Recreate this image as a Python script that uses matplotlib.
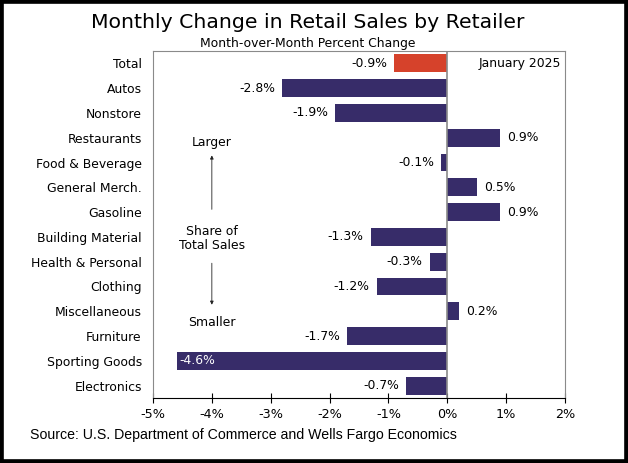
import matplotlib.pyplot as plt
from matplotlib.patches import Rectangle

# --- данные ---
categories = ['Total', 'Autos', 'Nonstore', 'Restaurants', 'Food & Beverage',
              'General Merch.', 'Gasoline', 'Building Material', 'Health & Personal',
              'Clothing', 'Miscellaneous', 'Furniture', 'Sporting Goods', 'Electronics']
values = [-0.9, -2.8, -1.9, 0.9, -0.1, 0.5, 0.9, -1.3, -0.3, -1.2, 0.2, -1.7, -4.6, -0.7]
x_ticks = [-5, -4, -3, -2, -1, 0, 1, 2]

navy = '#372c69'
red = '#d6422b'
fs = 8.9

fig = plt.figure(figsize=(6.28, 4.63), dpi=100)
ax = fig.add_axes([0.2436, 0.1404, 0.6561, 0.7494])

y = list(range(len(categories)))
colors = [red] + [navy] * (len(categories) - 1)
ax.barh(y, values, height=0.72, color=colors, zorder=2)
ax.axvline(0, color='#8a8a8a', lw=1.2, zorder=3)

ax.set_xlim(-5, 2)
ax.set_ylim(len(categories) - 0.5, -0.5)
ax.set_yticks(y)
ax.set_yticklabels(categories, fontsize=fs)
ax.set_xticks(x_ticks)
ax.set_xticklabels([f'{t}%' for t in x_ticks], fontsize=fs + 0.3)
ax.tick_params(axis='y', length=0, pad=8)
ax.tick_params(axis='x', direction='inout', length=7, color='black', pad=4)

for s in ['top', 'left', 'right']:
    ax.spines[s].set_color('#8a8a8a')
ax.spines['bottom'].set_color('black')

# подписи значений
for i, v in enumerate(values):
    txt = f'{v:.1f}%'
    if v < -4:
        ax.text(-4.55, i, txt, color='white', va='center', ha='left', fontsize=fs, zorder=4)
    elif v < 0:
        ax.text(v - 0.12, i, txt, va='center', ha='right', fontsize=fs)
    else:
        ax.text(v + 0.12, i, txt, va='center', ha='left', fontsize=fs)

ax.text(1.93, 0, 'January 2025', va='center', ha='right', fontsize=fs)

# стрелки "Share of Total Sales"
ax.text(-4.0, 3.2, 'Larger', ha='center', va='center', fontsize=fs)
ax.text(-4.0, 7.05, 'Share of\nTotal Sales', ha='center', va='center', fontsize=fs, linespacing=1.1)
ax.text(-4.0, 10.45, 'Smaller', ha='center', va='center', fontsize=fs)
ax.annotate('', xy=(-4.0, 3.6), xytext=(-4.0, 6.0),
            arrowprops=dict(arrowstyle='-|>', color='#222222', lw=0.6, mutation_scale=5))
ax.annotate('', xy=(-4.0, 9.85), xytext=(-4.0, 7.95),
            arrowprops=dict(arrowstyle='-|>', color='#222222', lw=0.6, mutation_scale=5))

fig.text(0.49, 0.952, 'Monthly Change in Retail Sales by Retailer', ha='center', va='center', fontsize=14.7)
fig.text(0.49, 0.905, 'Month-over-Month Percent Change', ha='center', va='center', fontsize=8.9)
fig.text(0.048, 0.06, 'Source: U.S. Department of Commerce and Wells Fargo Economics',
         ha='left', va='center', fontsize=10.2, family='Liberation Sans')

# рамка вокруг картинки
fig.patches.append(Rectangle((0.0, 0.0), 1.0, 1.0, transform=fig.transFigure,
                             fill=False, edgecolor='black', lw=5.5))

fig.savefig('out.png', dpi=100)
